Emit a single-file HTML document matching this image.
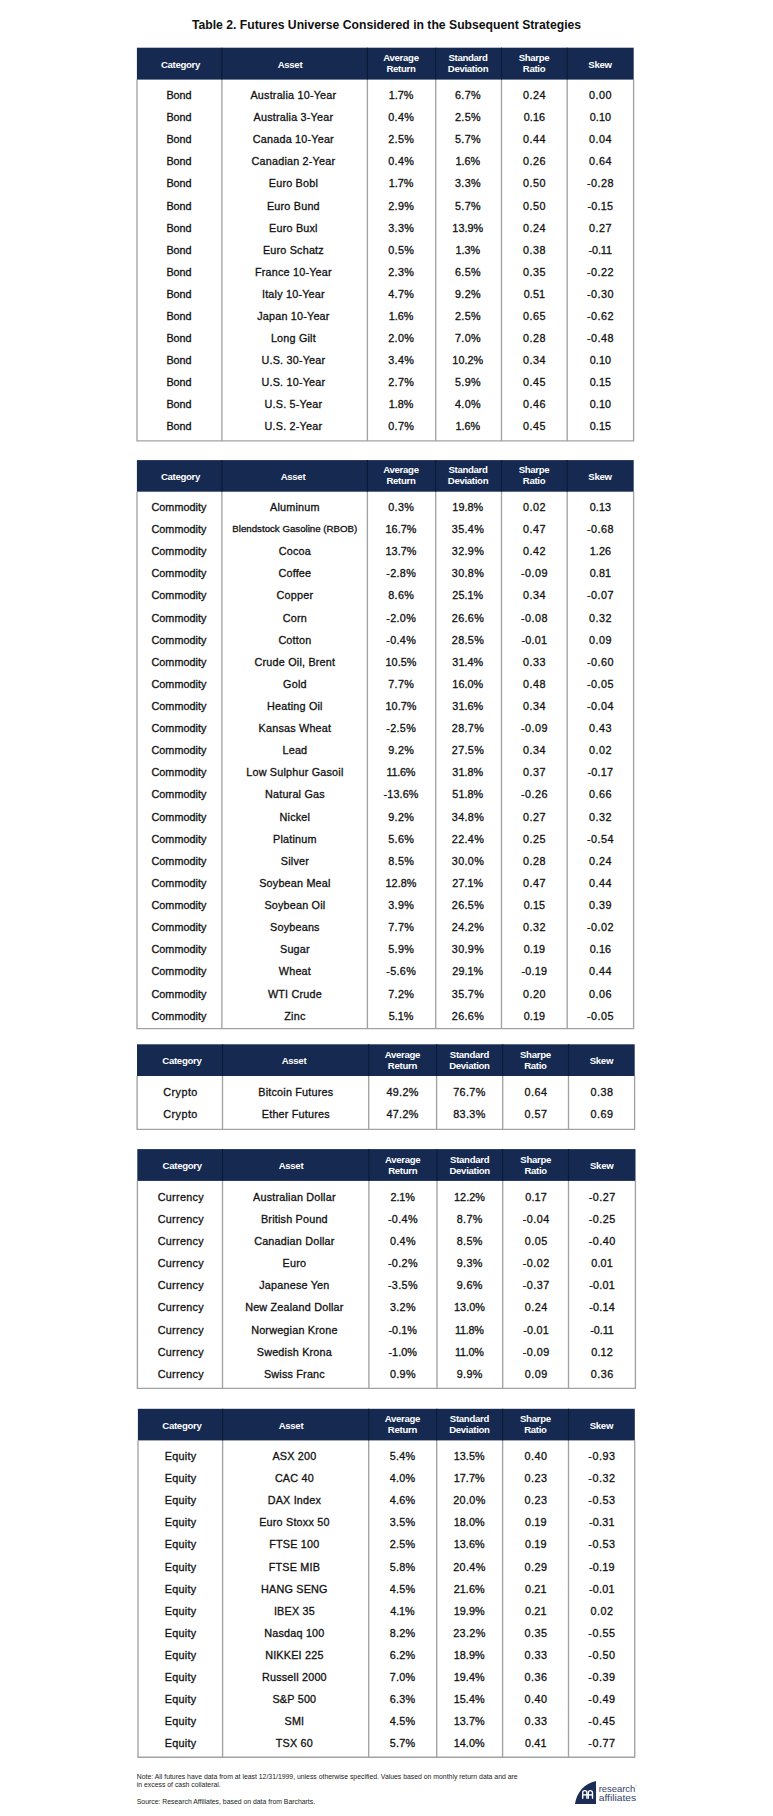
<!DOCTYPE html>
<html lang="en">
<head>
<meta charset="utf-8">
<title>Table 2. Futures Universe Considered in the Subsequent Strategies</title>
<style>
html,body{margin:0;padding:0;background:#fff;}
body{width:773px;height:1816px;position:relative;overflow:hidden;font-family:"Liberation Sans",Arial,sans-serif;color:#1c1c1c;}
.abs{position:absolute;}
.title{position:absolute;left:0;width:773px;top:15px;text-align:center;font-weight:bold;font-size:12.2px;line-height:20px;color:#111;white-space:nowrap;}
.hc{position:absolute;text-align:center;color:#fff;font-weight:bold;font-size:9.6px;letter-spacing:-0.3px;white-space:nowrap;}
.c{position:absolute;text-align:center;-webkit-text-stroke:0.3px #111;color:#111;font-size:10.8px;line-height:14px;height:14px;white-space:nowrap;}
.n{letter-spacing:0.5px;}
.note{position:absolute;left:136.8px;font-size:6.86px;line-height:8px;color:#222;white-space:nowrap;}
</style>
</head>
<body>
<div class="title">Table 2. Futures Universe Considered in the Subsequent Strategies</div>
<svg class="abs" style="left:0;top:0" width="773" height="1816" viewBox="0 0 773 1816">
<g fill="none" stroke="#a2a2a2" stroke-width="1.35"><path d="M137.0 79.6 V440.9 H633.6 V79.6"/><path d="M221.9 79.6 V440.9"/><path d="M367.4 79.6 V440.9"/><path d="M435.7 79.6 V440.9"/><path d="M501.5 79.6 V440.9"/><path d="M567.2 79.6 V440.9"/></g>
<rect x="136.9" y="47.7" width="496.8" height="31.9" fill="#162a51"/><g fill="none" stroke="#0b1a38" stroke-width="1.1"><path d="M221.9 47.7 V79.6"/><path d="M367.4 47.7 V79.6"/><path d="M435.7 47.7 V79.6"/><path d="M501.5 47.7 V79.6"/><path d="M567.2 47.7 V79.6"/></g>
<g fill="none" stroke="#a2a2a2" stroke-width="1.35"><path d="M137.0 491.7 V1028.6 H633.6 V491.7"/><path d="M221.9 491.7 V1028.6"/><path d="M367.4 491.7 V1028.6"/><path d="M435.7 491.7 V1028.6"/><path d="M501.5 491.7 V1028.6"/><path d="M567.2 491.7 V1028.6"/></g>
<rect x="136.9" y="460.1" width="496.8" height="31.6" fill="#162a51"/><g fill="none" stroke="#0b1a38" stroke-width="1.1"><path d="M221.9 460.1 V491.7"/><path d="M367.4 460.1 V491.7"/><path d="M435.7 460.1 V491.7"/><path d="M501.5 460.1 V491.7"/><path d="M567.2 460.1 V491.7"/></g>
<g fill="none" stroke="#a2a2a2" stroke-width="1.35"><path d="M137.1 1076.0 V1129.4 H634.6 V1076.0"/><path d="M222.5 1076.0 V1129.4"/><path d="M368.7 1076.0 V1129.4"/><path d="M436.6 1076.0 V1129.4"/><path d="M502.7 1076.0 V1129.4"/><path d="M568.5 1076.0 V1129.4"/></g>
<rect x="137.0" y="1044.3" width="497.7" height="31.7" fill="#162a51"/><g fill="none" stroke="#0b1a38" stroke-width="1.1"><path d="M222.5 1044.3 V1076.0"/><path d="M368.7 1044.3 V1076.0"/><path d="M436.6 1044.3 V1076.0"/><path d="M502.7 1044.3 V1076.0"/><path d="M568.5 1044.3 V1076.0"/></g>
<g fill="none" stroke="#a2a2a2" stroke-width="1.35"><path d="M137.4 1180.9 V1388.3 H635.4 V1180.9"/><path d="M222.5 1180.9 V1388.3"/><path d="M368.9 1180.9 V1388.3"/><path d="M437.0 1180.9 V1388.3"/><path d="M502.7 1180.9 V1388.3"/><path d="M568.5 1180.9 V1388.3"/></g>
<rect x="137.3" y="1149.1" width="498.2" height="31.8" fill="#162a51"/><g fill="none" stroke="#0b1a38" stroke-width="1.1"><path d="M222.5 1149.1 V1180.9"/><path d="M368.9 1149.1 V1180.9"/><path d="M437.0 1149.1 V1180.9"/><path d="M502.7 1149.1 V1180.9"/><path d="M568.5 1149.1 V1180.9"/></g>
<g fill="none" stroke="#a2a2a2" stroke-width="1.35"><path d="M138.0 1440.4 V1757.2 H634.7 V1440.4"/><path d="M222.6 1440.4 V1757.2"/><path d="M368.7 1440.4 V1757.2"/><path d="M436.7 1440.4 V1757.2"/><path d="M502.6 1440.4 V1757.2"/><path d="M568.5 1440.4 V1757.2"/></g>
<rect x="137.9" y="1408.8" width="496.9" height="31.6" fill="#162a51"/><g fill="none" stroke="#0b1a38" stroke-width="1.1"><path d="M222.6 1408.8 V1440.4"/><path d="M368.7 1408.8 V1440.4"/><path d="M436.7 1408.8 V1440.4"/><path d="M502.6 1408.8 V1440.4"/><path d="M568.5 1408.8 V1440.4"/></g>
</svg>
<div class="hc" style="left:140.5px;width:80px;top:59px;height:12px;line-height:12px">Category</div><div class="hc" style="left:250.0px;width:80px;top:59px;height:12px;line-height:12px">Asset</div><div class="hc" style="left:361.0px;width:80px;top:52px;height:22px;line-height:11px">Average<br>Return</div><div class="hc" style="left:428.0px;width:80px;top:52px;height:22px;line-height:11px">Standard<br>Deviation</div><div class="hc" style="left:494.0px;width:80px;top:52px;height:22px;line-height:11px">Sharpe<br>Ratio</div><div class="hc" style="left:560.0px;width:80px;top:59px;height:12px;line-height:12px">Skew</div>
<div class="c" style="left:104.0px;width:150px;top:88px;">Bond</div><div class="c" style="left:218.4px;width:150px;top:88px;letter-spacing:0.2px;">Australia 10-Year</div><div class="c n" style="left:326.0px;width:150px;top:88px;letter-spacing:-0.05px;">1.7%</div><div class="c n" style="left:393.0px;width:150px;top:88px;letter-spacing:0.33px;">6.7%</div><div class="c n" style="left:459.5px;width:150px;top:88px;">0.24</div><div class="c n" style="left:525.5px;width:150px;top:88px;">0.00</div>
<div class="c" style="left:104.0px;width:150px;top:110px;">Bond</div><div class="c" style="left:218.4px;width:150px;top:110px;letter-spacing:0.2px;">Australia 3-Year</div><div class="c n" style="left:326.2px;width:150px;top:110px;letter-spacing:0.33px;">0.4%</div><div class="c n" style="left:393.0px;width:150px;top:110px;letter-spacing:0.33px;">2.5%</div><div class="c n" style="left:459.4px;width:150px;top:110px;letter-spacing:0.12px;">0.16</div><div class="c n" style="left:525.4px;width:150px;top:110px;letter-spacing:0.12px;">0.10</div>
<div class="c" style="left:104.0px;width:150px;top:132px;">Bond</div><div class="c" style="left:218.4px;width:150px;top:132px;letter-spacing:0.2px;">Canada 10-Year</div><div class="c n" style="left:326.2px;width:150px;top:132px;letter-spacing:0.33px;">2.5%</div><div class="c n" style="left:393.0px;width:150px;top:132px;letter-spacing:0.33px;">5.7%</div><div class="c n" style="left:459.5px;width:150px;top:132px;">0.44</div><div class="c n" style="left:525.5px;width:150px;top:132px;">0.04</div>
<div class="c" style="left:104.0px;width:150px;top:154px;">Bond</div><div class="c" style="left:218.4px;width:150px;top:154px;letter-spacing:0.2px;">Canadian 2-Year</div><div class="c n" style="left:326.2px;width:150px;top:154px;letter-spacing:0.33px;">0.4%</div><div class="c n" style="left:392.8px;width:150px;top:154px;letter-spacing:-0.05px;">1.6%</div><div class="c n" style="left:459.5px;width:150px;top:154px;">0.26</div><div class="c n" style="left:525.5px;width:150px;top:154px;">0.64</div>
<div class="c" style="left:104.0px;width:150px;top:176px;">Bond</div><div class="c" style="left:218.4px;width:150px;top:176px;letter-spacing:0.2px;">Euro Bobl</div><div class="c n" style="left:326.0px;width:150px;top:176px;letter-spacing:-0.05px;">1.7%</div><div class="c n" style="left:393.0px;width:150px;top:176px;letter-spacing:0.33px;">3.3%</div><div class="c n" style="left:459.5px;width:150px;top:176px;">0.50</div><div class="c n" style="left:525.5px;width:150px;top:176px;">-0.28</div>
<div class="c" style="left:104.0px;width:150px;top:199px;">Bond</div><div class="c" style="left:218.4px;width:150px;top:199px;letter-spacing:0.2px;">Euro Bund</div><div class="c n" style="left:326.2px;width:150px;top:199px;letter-spacing:0.33px;">2.9%</div><div class="c n" style="left:393.0px;width:150px;top:199px;letter-spacing:0.33px;">5.7%</div><div class="c n" style="left:459.5px;width:150px;top:199px;">0.50</div><div class="c n" style="left:525.4px;width:150px;top:199px;letter-spacing:0.2px;">-0.15</div>
<div class="c" style="left:104.0px;width:150px;top:221px;">Bond</div><div class="c" style="left:218.4px;width:150px;top:221px;letter-spacing:0.2px;">Euro Buxl</div><div class="c n" style="left:326.2px;width:150px;top:221px;letter-spacing:0.33px;">3.3%</div><div class="c n" style="left:392.8px;width:150px;top:221px;letter-spacing:0.06px;">13.9%</div><div class="c n" style="left:459.5px;width:150px;top:221px;">0.24</div><div class="c n" style="left:525.5px;width:150px;top:221px;">0.27</div>
<div class="c" style="left:104.0px;width:150px;top:243px;">Bond</div><div class="c" style="left:218.4px;width:150px;top:243px;letter-spacing:0.2px;">Euro Schatz</div><div class="c n" style="left:326.2px;width:150px;top:243px;letter-spacing:0.33px;">0.5%</div><div class="c n" style="left:392.8px;width:150px;top:243px;letter-spacing:-0.05px;">1.3%</div><div class="c n" style="left:459.5px;width:150px;top:243px;">0.38</div><div class="c n" style="left:525.2px;width:150px;top:243px;letter-spacing:-0.1px;">-0.11</div>
<div class="c" style="left:104.0px;width:150px;top:265px;">Bond</div><div class="c" style="left:218.4px;width:150px;top:265px;letter-spacing:0.2px;">France 10-Year</div><div class="c n" style="left:326.2px;width:150px;top:265px;letter-spacing:0.33px;">2.3%</div><div class="c n" style="left:393.0px;width:150px;top:265px;letter-spacing:0.33px;">6.5%</div><div class="c n" style="left:459.5px;width:150px;top:265px;">0.35</div><div class="c n" style="left:525.5px;width:150px;top:265px;">-0.22</div>
<div class="c" style="left:104.0px;width:150px;top:287px;">Bond</div><div class="c" style="left:218.4px;width:150px;top:287px;letter-spacing:0.2px;">Italy 10-Year</div><div class="c n" style="left:326.2px;width:150px;top:287px;letter-spacing:0.33px;">4.7%</div><div class="c n" style="left:393.0px;width:150px;top:287px;letter-spacing:0.33px;">9.2%</div><div class="c n" style="left:459.4px;width:150px;top:287px;letter-spacing:0.12px;">0.51</div><div class="c n" style="left:525.5px;width:150px;top:287px;">-0.30</div>
<div class="c" style="left:104.0px;width:150px;top:309px;">Bond</div><div class="c" style="left:218.4px;width:150px;top:309px;letter-spacing:0.2px;">Japan 10-Year</div><div class="c n" style="left:326.0px;width:150px;top:309px;letter-spacing:-0.05px;">1.6%</div><div class="c n" style="left:393.0px;width:150px;top:309px;letter-spacing:0.33px;">2.5%</div><div class="c n" style="left:459.5px;width:150px;top:309px;">0.65</div><div class="c n" style="left:525.5px;width:150px;top:309px;">-0.62</div>
<div class="c" style="left:104.0px;width:150px;top:331px;">Bond</div><div class="c" style="left:218.4px;width:150px;top:331px;letter-spacing:0.2px;">Long Gilt</div><div class="c n" style="left:326.2px;width:150px;top:331px;letter-spacing:0.33px;">2.0%</div><div class="c n" style="left:393.0px;width:150px;top:331px;letter-spacing:0.33px;">7.0%</div><div class="c n" style="left:459.5px;width:150px;top:331px;">0.28</div><div class="c n" style="left:525.5px;width:150px;top:331px;">-0.48</div>
<div class="c" style="left:104.0px;width:150px;top:353px;">Bond</div><div class="c" style="left:218.4px;width:150px;top:353px;letter-spacing:0.2px;">U.S. 30-Year</div><div class="c n" style="left:326.2px;width:150px;top:353px;letter-spacing:0.33px;">3.4%</div><div class="c n" style="left:392.8px;width:150px;top:353px;letter-spacing:0.06px;">10.2%</div><div class="c n" style="left:459.5px;width:150px;top:353px;">0.34</div><div class="c n" style="left:525.4px;width:150px;top:353px;letter-spacing:0.12px;">0.10</div>
<div class="c" style="left:104.0px;width:150px;top:375px;">Bond</div><div class="c" style="left:218.4px;width:150px;top:375px;letter-spacing:0.2px;">U.S. 10-Year</div><div class="c n" style="left:326.2px;width:150px;top:375px;letter-spacing:0.33px;">2.7%</div><div class="c n" style="left:393.0px;width:150px;top:375px;letter-spacing:0.33px;">5.9%</div><div class="c n" style="left:459.5px;width:150px;top:375px;">0.45</div><div class="c n" style="left:525.4px;width:150px;top:375px;letter-spacing:0.12px;">0.15</div>
<div class="c" style="left:104.0px;width:150px;top:397px;">Bond</div><div class="c" style="left:218.4px;width:150px;top:397px;letter-spacing:0.2px;">U.S. 5-Year</div><div class="c n" style="left:326.0px;width:150px;top:397px;letter-spacing:-0.05px;">1.8%</div><div class="c n" style="left:393.0px;width:150px;top:397px;letter-spacing:0.33px;">4.0%</div><div class="c n" style="left:459.5px;width:150px;top:397px;">0.46</div><div class="c n" style="left:525.4px;width:150px;top:397px;letter-spacing:0.12px;">0.10</div>
<div class="c" style="left:104.0px;width:150px;top:419px;">Bond</div><div class="c" style="left:218.4px;width:150px;top:419px;letter-spacing:0.2px;">U.S. 2-Year</div><div class="c n" style="left:326.2px;width:150px;top:419px;letter-spacing:0.33px;">0.7%</div><div class="c n" style="left:392.8px;width:150px;top:419px;letter-spacing:-0.05px;">1.6%</div><div class="c n" style="left:459.5px;width:150px;top:419px;">0.45</div><div class="c n" style="left:525.4px;width:150px;top:419px;letter-spacing:0.12px;">0.15</div>
<div class="hc" style="left:140.5px;width:80px;top:471px;height:12px;line-height:12px">Category</div><div class="hc" style="left:253.0px;width:80px;top:471px;height:12px;line-height:12px">Asset</div><div class="hc" style="left:361.0px;width:80px;top:464px;height:22px;line-height:11px">Average<br>Return</div><div class="hc" style="left:428.0px;width:80px;top:464px;height:22px;line-height:11px">Standard<br>Deviation</div><div class="hc" style="left:494.0px;width:80px;top:464px;height:22px;line-height:11px">Sharpe<br>Ratio</div><div class="hc" style="left:560.0px;width:80px;top:471px;height:12px;line-height:12px">Skew</div>
<div class="c" style="left:104.0px;width:150px;top:500px;letter-spacing:0.05px;">Commodity</div><div class="c" style="left:219.9px;width:150px;top:500px;letter-spacing:0.2px;">Aluminum</div><div class="c n" style="left:326.2px;width:150px;top:500px;letter-spacing:0.33px;">0.3%</div><div class="c n" style="left:392.8px;width:150px;top:500px;letter-spacing:0.06px;">19.8%</div><div class="c n" style="left:459.5px;width:150px;top:500px;">0.02</div><div class="c n" style="left:525.4px;width:150px;top:500px;letter-spacing:0.12px;">0.13</div>
<div class="c" style="left:104.0px;width:150px;top:522px;letter-spacing:0.05px;">Commodity</div><div class="c" style="left:219.8px;width:150px;top:522px;font-size:9.7px;letter-spacing:0;">Blendstock Gasoline (RBOB)</div><div class="c n" style="left:326.0px;width:150px;top:522px;letter-spacing:0.06px;">16.7%</div><div class="c n" style="left:393.0px;width:150px;top:522px;letter-spacing:0.36px;">35.4%</div><div class="c n" style="left:459.5px;width:150px;top:522px;">0.47</div><div class="c n" style="left:525.5px;width:150px;top:522px;">-0.68</div>
<div class="c" style="left:104.0px;width:150px;top:544px;letter-spacing:0.05px;">Commodity</div><div class="c" style="left:219.9px;width:150px;top:544px;letter-spacing:0.2px;">Cocoa</div><div class="c n" style="left:326.0px;width:150px;top:544px;letter-spacing:0.06px;">13.7%</div><div class="c n" style="left:393.0px;width:150px;top:544px;letter-spacing:0.36px;">32.9%</div><div class="c n" style="left:459.5px;width:150px;top:544px;">0.42</div><div class="c n" style="left:525.4px;width:150px;top:544px;letter-spacing:0.12px;">1.26</div>
<div class="c" style="left:104.0px;width:150px;top:566px;letter-spacing:0.05px;">Commodity</div><div class="c" style="left:219.9px;width:150px;top:566px;letter-spacing:0.2px;">Coffee</div><div class="c n" style="left:326.2px;width:150px;top:566px;letter-spacing:0.36px;">-2.8%</div><div class="c n" style="left:393.0px;width:150px;top:566px;letter-spacing:0.36px;">30.8%</div><div class="c n" style="left:459.5px;width:150px;top:566px;">-0.09</div><div class="c n" style="left:525.4px;width:150px;top:566px;letter-spacing:0.12px;">0.81</div>
<div class="c" style="left:104.0px;width:150px;top:588px;letter-spacing:0.05px;">Commodity</div><div class="c" style="left:219.9px;width:150px;top:588px;letter-spacing:0.2px;">Copper</div><div class="c n" style="left:326.2px;width:150px;top:588px;letter-spacing:0.33px;">8.6%</div><div class="c n" style="left:392.8px;width:150px;top:588px;letter-spacing:0.06px;">25.1%</div><div class="c n" style="left:459.5px;width:150px;top:588px;">0.34</div><div class="c n" style="left:525.5px;width:150px;top:588px;">-0.07</div>
<div class="c" style="left:104.0px;width:150px;top:611px;letter-spacing:0.05px;">Commodity</div><div class="c" style="left:219.9px;width:150px;top:611px;letter-spacing:0.2px;">Corn</div><div class="c n" style="left:326.2px;width:150px;top:611px;letter-spacing:0.36px;">-2.0%</div><div class="c n" style="left:393.0px;width:150px;top:611px;letter-spacing:0.36px;">26.6%</div><div class="c n" style="left:459.5px;width:150px;top:611px;">-0.08</div><div class="c n" style="left:525.5px;width:150px;top:611px;">0.32</div>
<div class="c" style="left:104.0px;width:150px;top:633px;letter-spacing:0.05px;">Commodity</div><div class="c" style="left:219.9px;width:150px;top:633px;letter-spacing:0.2px;">Cotton</div><div class="c n" style="left:326.2px;width:150px;top:633px;letter-spacing:0.36px;">-0.4%</div><div class="c n" style="left:393.0px;width:150px;top:633px;letter-spacing:0.36px;">28.5%</div><div class="c n" style="left:459.4px;width:150px;top:633px;letter-spacing:0.2px;">-0.01</div><div class="c n" style="left:525.5px;width:150px;top:633px;">0.09</div>
<div class="c" style="left:104.0px;width:150px;top:655px;letter-spacing:0.05px;">Commodity</div><div class="c" style="left:219.9px;width:150px;top:655px;letter-spacing:0.2px;">Crude Oil, Brent</div><div class="c n" style="left:326.0px;width:150px;top:655px;letter-spacing:0.06px;">10.5%</div><div class="c n" style="left:392.8px;width:150px;top:655px;letter-spacing:0.06px;">31.4%</div><div class="c n" style="left:459.5px;width:150px;top:655px;">0.33</div><div class="c n" style="left:525.5px;width:150px;top:655px;">-0.60</div>
<div class="c" style="left:104.0px;width:150px;top:677px;letter-spacing:0.05px;">Commodity</div><div class="c" style="left:219.9px;width:150px;top:677px;letter-spacing:0.2px;">Gold</div><div class="c n" style="left:326.2px;width:150px;top:677px;letter-spacing:0.33px;">7.7%</div><div class="c n" style="left:392.8px;width:150px;top:677px;letter-spacing:0.06px;">16.0%</div><div class="c n" style="left:459.5px;width:150px;top:677px;">0.48</div><div class="c n" style="left:525.5px;width:150px;top:677px;">-0.05</div>
<div class="c" style="left:104.0px;width:150px;top:699px;letter-spacing:0.05px;">Commodity</div><div class="c" style="left:219.9px;width:150px;top:699px;letter-spacing:0.2px;">Heating Oil</div><div class="c n" style="left:326.0px;width:150px;top:699px;letter-spacing:0.06px;">10.7%</div><div class="c n" style="left:392.8px;width:150px;top:699px;letter-spacing:0.06px;">31.6%</div><div class="c n" style="left:459.5px;width:150px;top:699px;">0.34</div><div class="c n" style="left:525.5px;width:150px;top:699px;">-0.04</div>
<div class="c" style="left:104.0px;width:150px;top:721px;letter-spacing:0.05px;">Commodity</div><div class="c" style="left:219.9px;width:150px;top:721px;letter-spacing:0.2px;">Kansas Wheat</div><div class="c n" style="left:326.2px;width:150px;top:721px;letter-spacing:0.36px;">-2.5%</div><div class="c n" style="left:393.0px;width:150px;top:721px;letter-spacing:0.36px;">28.7%</div><div class="c n" style="left:459.5px;width:150px;top:721px;">-0.09</div><div class="c n" style="left:525.5px;width:150px;top:721px;">0.43</div>
<div class="c" style="left:104.0px;width:150px;top:743px;letter-spacing:0.05px;">Commodity</div><div class="c" style="left:219.9px;width:150px;top:743px;letter-spacing:0.2px;">Lead</div><div class="c n" style="left:326.2px;width:150px;top:743px;letter-spacing:0.33px;">9.2%</div><div class="c n" style="left:393.0px;width:150px;top:743px;letter-spacing:0.36px;">27.5%</div><div class="c n" style="left:459.5px;width:150px;top:743px;">0.34</div><div class="c n" style="left:525.5px;width:150px;top:743px;">0.02</div>
<div class="c" style="left:104.0px;width:150px;top:765px;letter-spacing:0.05px;">Commodity</div><div class="c" style="left:219.9px;width:150px;top:765px;letter-spacing:0.2px;">Low Sulphur Gasoil</div><div class="c n" style="left:325.9px;width:150px;top:765px;letter-spacing:-0.24px;">11.6%</div><div class="c n" style="left:392.8px;width:150px;top:765px;letter-spacing:0.06px;">31.8%</div><div class="c n" style="left:459.5px;width:150px;top:765px;">0.37</div><div class="c n" style="left:525.4px;width:150px;top:765px;letter-spacing:0.2px;">-0.17</div>
<div class="c" style="left:104.0px;width:150px;top:787px;letter-spacing:0.05px;">Commodity</div><div class="c" style="left:219.9px;width:150px;top:787px;letter-spacing:0.2px;">Natural Gas</div><div class="c n" style="left:326.1px;width:150px;top:787px;letter-spacing:0.13px;">-13.6%</div><div class="c n" style="left:392.8px;width:150px;top:787px;letter-spacing:0.06px;">51.8%</div><div class="c n" style="left:459.5px;width:150px;top:787px;">-0.26</div><div class="c n" style="left:525.5px;width:150px;top:787px;">0.66</div>
<div class="c" style="left:104.0px;width:150px;top:810px;letter-spacing:0.05px;">Commodity</div><div class="c" style="left:219.9px;width:150px;top:810px;letter-spacing:0.2px;">Nickel</div><div class="c n" style="left:326.2px;width:150px;top:810px;letter-spacing:0.33px;">9.2%</div><div class="c n" style="left:393.0px;width:150px;top:810px;letter-spacing:0.36px;">34.8%</div><div class="c n" style="left:459.5px;width:150px;top:810px;">0.27</div><div class="c n" style="left:525.5px;width:150px;top:810px;">0.32</div>
<div class="c" style="left:104.0px;width:150px;top:832px;letter-spacing:0.05px;">Commodity</div><div class="c" style="left:219.9px;width:150px;top:832px;letter-spacing:0.2px;">Platinum</div><div class="c n" style="left:326.2px;width:150px;top:832px;letter-spacing:0.33px;">5.6%</div><div class="c n" style="left:393.0px;width:150px;top:832px;letter-spacing:0.36px;">22.4%</div><div class="c n" style="left:459.5px;width:150px;top:832px;">0.25</div><div class="c n" style="left:525.5px;width:150px;top:832px;">-0.54</div>
<div class="c" style="left:104.0px;width:150px;top:854px;letter-spacing:0.05px;">Commodity</div><div class="c" style="left:219.9px;width:150px;top:854px;letter-spacing:0.2px;">Silver</div><div class="c n" style="left:326.2px;width:150px;top:854px;letter-spacing:0.33px;">8.5%</div><div class="c n" style="left:393.0px;width:150px;top:854px;letter-spacing:0.36px;">30.0%</div><div class="c n" style="left:459.5px;width:150px;top:854px;">0.28</div><div class="c n" style="left:525.5px;width:150px;top:854px;">0.24</div>
<div class="c" style="left:104.0px;width:150px;top:876px;letter-spacing:0.05px;">Commodity</div><div class="c" style="left:219.9px;width:150px;top:876px;letter-spacing:0.2px;">Soybean Meal</div><div class="c n" style="left:326.0px;width:150px;top:876px;letter-spacing:0.06px;">12.8%</div><div class="c n" style="left:392.8px;width:150px;top:876px;letter-spacing:0.06px;">27.1%</div><div class="c n" style="left:459.5px;width:150px;top:876px;">0.47</div><div class="c n" style="left:525.5px;width:150px;top:876px;">0.44</div>
<div class="c" style="left:104.0px;width:150px;top:898px;letter-spacing:0.05px;">Commodity</div><div class="c" style="left:219.9px;width:150px;top:898px;letter-spacing:0.2px;">Soybean Oil</div><div class="c n" style="left:326.2px;width:150px;top:898px;letter-spacing:0.33px;">3.9%</div><div class="c n" style="left:393.0px;width:150px;top:898px;letter-spacing:0.36px;">26.5%</div><div class="c n" style="left:459.4px;width:150px;top:898px;letter-spacing:0.12px;">0.15</div><div class="c n" style="left:525.5px;width:150px;top:898px;">0.39</div>
<div class="c" style="left:104.0px;width:150px;top:920px;letter-spacing:0.05px;">Commodity</div><div class="c" style="left:219.9px;width:150px;top:920px;letter-spacing:0.2px;">Soybeans</div><div class="c n" style="left:326.2px;width:150px;top:920px;letter-spacing:0.33px;">7.7%</div><div class="c n" style="left:393.0px;width:150px;top:920px;letter-spacing:0.36px;">24.2%</div><div class="c n" style="left:459.5px;width:150px;top:920px;">0.32</div><div class="c n" style="left:525.5px;width:150px;top:920px;">-0.02</div>
<div class="c" style="left:104.0px;width:150px;top:942px;letter-spacing:0.05px;">Commodity</div><div class="c" style="left:219.9px;width:150px;top:942px;letter-spacing:0.2px;">Sugar</div><div class="c n" style="left:326.2px;width:150px;top:942px;letter-spacing:0.33px;">5.9%</div><div class="c n" style="left:393.0px;width:150px;top:942px;letter-spacing:0.36px;">30.9%</div><div class="c n" style="left:459.4px;width:150px;top:942px;letter-spacing:0.12px;">0.19</div><div class="c n" style="left:525.4px;width:150px;top:942px;letter-spacing:0.12px;">0.16</div>
<div class="c" style="left:104.0px;width:150px;top:964px;letter-spacing:0.05px;">Commodity</div><div class="c" style="left:219.9px;width:150px;top:964px;letter-spacing:0.2px;">Wheat</div><div class="c n" style="left:326.2px;width:150px;top:964px;letter-spacing:0.36px;">-5.6%</div><div class="c n" style="left:392.8px;width:150px;top:964px;letter-spacing:0.06px;">29.1%</div><div class="c n" style="left:459.4px;width:150px;top:964px;letter-spacing:0.2px;">-0.19</div><div class="c n" style="left:525.5px;width:150px;top:964px;">0.44</div>
<div class="c" style="left:104.0px;width:150px;top:987px;letter-spacing:0.05px;">Commodity</div><div class="c" style="left:219.9px;width:150px;top:987px;letter-spacing:0.2px;">WTI Crude</div><div class="c n" style="left:326.2px;width:150px;top:987px;letter-spacing:0.33px;">7.2%</div><div class="c n" style="left:393.0px;width:150px;top:987px;letter-spacing:0.36px;">35.7%</div><div class="c n" style="left:459.5px;width:150px;top:987px;">0.20</div><div class="c n" style="left:525.5px;width:150px;top:987px;">0.06</div>
<div class="c" style="left:104.0px;width:150px;top:1009px;letter-spacing:0.05px;">Commodity</div><div class="c" style="left:219.9px;width:150px;top:1009px;letter-spacing:0.2px;">Zinc</div><div class="c n" style="left:326.0px;width:150px;top:1009px;letter-spacing:-0.05px;">5.1%</div><div class="c n" style="left:393.0px;width:150px;top:1009px;letter-spacing:0.36px;">26.6%</div><div class="c n" style="left:459.4px;width:150px;top:1009px;letter-spacing:0.12px;">0.19</div><div class="c n" style="left:525.5px;width:150px;top:1009px;">-0.05</div>
<div class="hc" style="left:141.9px;width:80px;top:1055px;height:12px;line-height:12px">Category</div><div class="hc" style="left:254.0px;width:80px;top:1055px;height:12px;line-height:12px">Asset</div><div class="hc" style="left:362.4px;width:80px;top:1049px;height:22px;line-height:11px">Average<br>Return</div><div class="hc" style="left:429.4px;width:80px;top:1049px;height:22px;line-height:11px">Standard<br>Deviation</div><div class="hc" style="left:495.4px;width:80px;top:1049px;height:22px;line-height:11px">Sharpe<br>Ratio</div><div class="hc" style="left:561.4px;width:80px;top:1055px;height:12px;line-height:12px">Skew</div>
<div class="c" style="left:105.6px;width:150px;top:1085px;letter-spacing:0.45px;">Crypto</div><div class="c" style="left:220.8px;width:150px;top:1085px;letter-spacing:0.2px;">Bitcoin Futures</div><div class="c n" style="left:327.6px;width:150px;top:1085px;letter-spacing:0.36px;">49.2%</div><div class="c n" style="left:394.4px;width:150px;top:1085px;letter-spacing:0.36px;">76.7%</div><div class="c n" style="left:460.9px;width:150px;top:1085px;">0.64</div><div class="c n" style="left:526.9px;width:150px;top:1085px;">0.38</div>
<div class="c" style="left:105.6px;width:150px;top:1107px;letter-spacing:0.45px;">Crypto</div><div class="c" style="left:220.8px;width:150px;top:1107px;letter-spacing:0.2px;">Ether Futures</div><div class="c n" style="left:327.6px;width:150px;top:1107px;letter-spacing:0.36px;">47.2%</div><div class="c n" style="left:394.4px;width:150px;top:1107px;letter-spacing:0.36px;">83.3%</div><div class="c n" style="left:460.9px;width:150px;top:1107px;">0.57</div><div class="c n" style="left:526.9px;width:150px;top:1107px;">0.69</div>
<div class="hc" style="left:142.2px;width:80px;top:1160px;height:12px;line-height:12px">Category</div><div class="hc" style="left:251.0px;width:80px;top:1160px;height:12px;line-height:12px">Asset</div><div class="hc" style="left:362.7px;width:80px;top:1154px;height:22px;line-height:11px">Average<br>Return</div><div class="hc" style="left:429.7px;width:80px;top:1154px;height:22px;line-height:11px">Standard<br>Deviation</div><div class="hc" style="left:495.7px;width:80px;top:1154px;height:22px;line-height:11px">Sharpe<br>Ratio</div><div class="hc" style="left:561.7px;width:80px;top:1160px;height:12px;line-height:12px">Skew</div>
<div class="c" style="left:105.8px;width:150px;top:1190px;letter-spacing:0.3px;">Currency</div><div class="c" style="left:219.4px;width:150px;top:1190px;letter-spacing:0.2px;">Australian Dollar</div><div class="c n" style="left:327.7px;width:150px;top:1190px;letter-spacing:-0.05px;">2.1%</div><div class="c n" style="left:394.5px;width:150px;top:1190px;letter-spacing:0.06px;">12.2%</div><div class="c n" style="left:461.1px;width:150px;top:1190px;letter-spacing:0.12px;">0.17</div><div class="c n" style="left:527.2px;width:150px;top:1190px;">-0.27</div>
<div class="c" style="left:105.8px;width:150px;top:1212px;letter-spacing:0.3px;">Currency</div><div class="c" style="left:219.4px;width:150px;top:1212px;letter-spacing:0.2px;">British Pound</div><div class="c n" style="left:327.9px;width:150px;top:1212px;letter-spacing:0.36px;">-0.4%</div><div class="c n" style="left:394.7px;width:150px;top:1212px;letter-spacing:0.33px;">8.7%</div><div class="c n" style="left:461.2px;width:150px;top:1212px;">-0.04</div><div class="c n" style="left:527.2px;width:150px;top:1212px;">-0.25</div>
<div class="c" style="left:105.8px;width:150px;top:1234px;letter-spacing:0.3px;">Currency</div><div class="c" style="left:219.4px;width:150px;top:1234px;letter-spacing:0.2px;">Canadian Dollar</div><div class="c n" style="left:327.9px;width:150px;top:1234px;letter-spacing:0.33px;">0.4%</div><div class="c n" style="left:394.7px;width:150px;top:1234px;letter-spacing:0.33px;">8.5%</div><div class="c n" style="left:461.2px;width:150px;top:1234px;">0.05</div><div class="c n" style="left:527.2px;width:150px;top:1234px;">-0.40</div>
<div class="c" style="left:105.8px;width:150px;top:1256px;letter-spacing:0.3px;">Currency</div><div class="c" style="left:219.4px;width:150px;top:1256px;letter-spacing:0.2px;">Euro</div><div class="c n" style="left:327.9px;width:150px;top:1256px;letter-spacing:0.36px;">-0.2%</div><div class="c n" style="left:394.7px;width:150px;top:1256px;letter-spacing:0.33px;">9.3%</div><div class="c n" style="left:461.2px;width:150px;top:1256px;">-0.02</div><div class="c n" style="left:527.1px;width:150px;top:1256px;letter-spacing:0.12px;">0.01</div>
<div class="c" style="left:105.8px;width:150px;top:1278px;letter-spacing:0.3px;">Currency</div><div class="c" style="left:219.4px;width:150px;top:1278px;letter-spacing:0.2px;">Japanese Yen</div><div class="c n" style="left:327.9px;width:150px;top:1278px;letter-spacing:0.36px;">-3.5%</div><div class="c n" style="left:394.7px;width:150px;top:1278px;letter-spacing:0.33px;">9.6%</div><div class="c n" style="left:461.2px;width:150px;top:1278px;">-0.37</div><div class="c n" style="left:527.1px;width:150px;top:1278px;letter-spacing:0.2px;">-0.01</div>
<div class="c" style="left:105.8px;width:150px;top:1300px;letter-spacing:0.3px;">Currency</div><div class="c" style="left:219.4px;width:150px;top:1300px;letter-spacing:0.2px;">New Zealand Dollar</div><div class="c n" style="left:327.9px;width:150px;top:1300px;letter-spacing:0.33px;">3.2%</div><div class="c n" style="left:394.5px;width:150px;top:1300px;letter-spacing:0.06px;">13.0%</div><div class="c n" style="left:461.2px;width:150px;top:1300px;">0.24</div><div class="c n" style="left:527.1px;width:150px;top:1300px;letter-spacing:0.2px;">-0.14</div>
<div class="c" style="left:105.8px;width:150px;top:1323px;letter-spacing:0.3px;">Currency</div><div class="c" style="left:219.4px;width:150px;top:1323px;letter-spacing:0.2px;">Norwegian Krone</div><div class="c n" style="left:327.7px;width:150px;top:1323px;letter-spacing:0.06px;">-0.1%</div><div class="c n" style="left:394.4px;width:150px;top:1323px;letter-spacing:-0.24px;">11.8%</div><div class="c n" style="left:461.1px;width:150px;top:1323px;letter-spacing:0.2px;">-0.01</div><div class="c n" style="left:527.0px;width:150px;top:1323px;letter-spacing:-0.1px;">-0.11</div>
<div class="c" style="left:105.8px;width:150px;top:1345px;letter-spacing:0.3px;">Currency</div><div class="c" style="left:219.4px;width:150px;top:1345px;letter-spacing:0.2px;">Swedish Krona</div><div class="c n" style="left:327.7px;width:150px;top:1345px;letter-spacing:0.06px;">-1.0%</div><div class="c n" style="left:394.4px;width:150px;top:1345px;letter-spacing:-0.24px;">11.0%</div><div class="c n" style="left:461.2px;width:150px;top:1345px;">-0.09</div><div class="c n" style="left:527.1px;width:150px;top:1345px;letter-spacing:0.12px;">0.12</div>
<div class="c" style="left:105.8px;width:150px;top:1367px;letter-spacing:0.3px;">Currency</div><div class="c" style="left:219.4px;width:150px;top:1367px;letter-spacing:0.2px;">Swiss Franc</div><div class="c n" style="left:327.9px;width:150px;top:1367px;letter-spacing:0.33px;">0.9%</div><div class="c n" style="left:394.7px;width:150px;top:1367px;letter-spacing:0.33px;">9.9%</div><div class="c n" style="left:461.2px;width:150px;top:1367px;">0.09</div><div class="c n" style="left:527.2px;width:150px;top:1367px;">0.36</div>
<div class="hc" style="left:141.9px;width:80px;top:1420px;height:12px;line-height:12px">Category</div><div class="hc" style="left:251.0px;width:80px;top:1420px;height:12px;line-height:12px">Asset</div><div class="hc" style="left:362.4px;width:80px;top:1413px;height:22px;line-height:11px">Average<br>Return</div><div class="hc" style="left:429.4px;width:80px;top:1413px;height:22px;line-height:11px">Standard<br>Deviation</div><div class="hc" style="left:495.4px;width:80px;top:1413px;height:22px;line-height:11px">Sharpe<br>Ratio</div><div class="hc" style="left:561.4px;width:80px;top:1420px;height:12px;line-height:12px">Skew</div>
<div class="c" style="left:105.6px;width:150px;top:1449px;letter-spacing:0.3px;">Equity</div><div class="c" style="left:219.4px;width:150px;top:1449px;letter-spacing:0.2px;">ASX 200</div><div class="c n" style="left:327.6px;width:150px;top:1449px;letter-spacing:0.33px;">5.4%</div><div class="c n" style="left:394.2px;width:150px;top:1449px;letter-spacing:0.06px;">13.5%</div><div class="c n" style="left:460.9px;width:150px;top:1449px;">0.40</div><div class="c n" style="left:526.9px;width:150px;top:1449px;">-0.93</div>
<div class="c" style="left:105.6px;width:150px;top:1471px;letter-spacing:0.3px;">Equity</div><div class="c" style="left:219.4px;width:150px;top:1471px;letter-spacing:0.2px;">CAC 40</div><div class="c n" style="left:327.6px;width:150px;top:1471px;letter-spacing:0.33px;">4.0%</div><div class="c n" style="left:394.2px;width:150px;top:1471px;letter-spacing:0.06px;">17.7%</div><div class="c n" style="left:460.9px;width:150px;top:1471px;">0.23</div><div class="c n" style="left:526.9px;width:150px;top:1471px;">-0.32</div>
<div class="c" style="left:105.6px;width:150px;top:1493px;letter-spacing:0.3px;">Equity</div><div class="c" style="left:219.4px;width:150px;top:1493px;letter-spacing:0.2px;">DAX Index</div><div class="c n" style="left:327.6px;width:150px;top:1493px;letter-spacing:0.33px;">4.6%</div><div class="c n" style="left:394.4px;width:150px;top:1493px;letter-spacing:0.36px;">20.0%</div><div class="c n" style="left:460.9px;width:150px;top:1493px;">0.23</div><div class="c n" style="left:526.9px;width:150px;top:1493px;">-0.53</div>
<div class="c" style="left:105.6px;width:150px;top:1515px;letter-spacing:0.3px;">Equity</div><div class="c" style="left:219.4px;width:150px;top:1515px;letter-spacing:0.2px;">Euro Stoxx 50</div><div class="c n" style="left:327.6px;width:150px;top:1515px;letter-spacing:0.33px;">3.5%</div><div class="c n" style="left:394.2px;width:150px;top:1515px;letter-spacing:0.06px;">18.0%</div><div class="c n" style="left:460.8px;width:150px;top:1515px;letter-spacing:0.12px;">0.19</div><div class="c n" style="left:526.8px;width:150px;top:1515px;letter-spacing:0.2px;">-0.31</div>
<div class="c" style="left:105.6px;width:150px;top:1537px;letter-spacing:0.3px;">Equity</div><div class="c" style="left:219.4px;width:150px;top:1537px;letter-spacing:0.2px;">FTSE 100</div><div class="c n" style="left:327.6px;width:150px;top:1537px;letter-spacing:0.33px;">2.5%</div><div class="c n" style="left:394.2px;width:150px;top:1537px;letter-spacing:0.06px;">13.6%</div><div class="c n" style="left:460.8px;width:150px;top:1537px;letter-spacing:0.12px;">0.19</div><div class="c n" style="left:526.9px;width:150px;top:1537px;">-0.53</div>
<div class="c" style="left:105.6px;width:150px;top:1560px;letter-spacing:0.3px;">Equity</div><div class="c" style="left:219.4px;width:150px;top:1560px;letter-spacing:0.2px;">FTSE MIB</div><div class="c n" style="left:327.6px;width:150px;top:1560px;letter-spacing:0.33px;">5.8%</div><div class="c n" style="left:394.4px;width:150px;top:1560px;letter-spacing:0.36px;">20.4%</div><div class="c n" style="left:460.9px;width:150px;top:1560px;">0.29</div><div class="c n" style="left:526.8px;width:150px;top:1560px;letter-spacing:0.2px;">-0.19</div>
<div class="c" style="left:105.6px;width:150px;top:1582px;letter-spacing:0.3px;">Equity</div><div class="c" style="left:219.4px;width:150px;top:1582px;letter-spacing:0.2px;">HANG SENG</div><div class="c n" style="left:327.6px;width:150px;top:1582px;letter-spacing:0.33px;">4.5%</div><div class="c n" style="left:394.2px;width:150px;top:1582px;letter-spacing:0.06px;">21.6%</div><div class="c n" style="left:460.8px;width:150px;top:1582px;letter-spacing:0.12px;">0.21</div><div class="c n" style="left:526.8px;width:150px;top:1582px;letter-spacing:0.2px;">-0.01</div>
<div class="c" style="left:105.6px;width:150px;top:1604px;letter-spacing:0.3px;">Equity</div><div class="c" style="left:219.4px;width:150px;top:1604px;letter-spacing:0.2px;">IBEX 35</div><div class="c n" style="left:327.4px;width:150px;top:1604px;letter-spacing:-0.05px;">4.1%</div><div class="c n" style="left:394.2px;width:150px;top:1604px;letter-spacing:0.06px;">19.9%</div><div class="c n" style="left:460.8px;width:150px;top:1604px;letter-spacing:0.12px;">0.21</div><div class="c n" style="left:526.9px;width:150px;top:1604px;">0.02</div>
<div class="c" style="left:105.6px;width:150px;top:1626px;letter-spacing:0.3px;">Equity</div><div class="c" style="left:219.4px;width:150px;top:1626px;letter-spacing:0.2px;">Nasdaq 100</div><div class="c n" style="left:327.6px;width:150px;top:1626px;letter-spacing:0.33px;">8.2%</div><div class="c n" style="left:394.4px;width:150px;top:1626px;letter-spacing:0.36px;">23.2%</div><div class="c n" style="left:460.9px;width:150px;top:1626px;">0.35</div><div class="c n" style="left:526.9px;width:150px;top:1626px;">-0.55</div>
<div class="c" style="left:105.6px;width:150px;top:1648px;letter-spacing:0.3px;">Equity</div><div class="c" style="left:219.4px;width:150px;top:1648px;letter-spacing:0.2px;">NIKKEI 225</div><div class="c n" style="left:327.6px;width:150px;top:1648px;letter-spacing:0.33px;">6.2%</div><div class="c n" style="left:394.2px;width:150px;top:1648px;letter-spacing:0.06px;">18.9%</div><div class="c n" style="left:460.9px;width:150px;top:1648px;">0.33</div><div class="c n" style="left:526.9px;width:150px;top:1648px;">-0.50</div>
<div class="c" style="left:105.6px;width:150px;top:1670px;letter-spacing:0.3px;">Equity</div><div class="c" style="left:219.4px;width:150px;top:1670px;letter-spacing:0.2px;">Russell 2000</div><div class="c n" style="left:327.6px;width:150px;top:1670px;letter-spacing:0.33px;">7.0%</div><div class="c n" style="left:394.2px;width:150px;top:1670px;letter-spacing:0.06px;">19.4%</div><div class="c n" style="left:460.9px;width:150px;top:1670px;">0.36</div><div class="c n" style="left:526.9px;width:150px;top:1670px;">-0.39</div>
<div class="c" style="left:105.6px;width:150px;top:1692px;letter-spacing:0.3px;">Equity</div><div class="c" style="left:219.4px;width:150px;top:1692px;letter-spacing:0.2px;">S&amp;P 500</div><div class="c n" style="left:327.6px;width:150px;top:1692px;letter-spacing:0.33px;">6.3%</div><div class="c n" style="left:394.2px;width:150px;top:1692px;letter-spacing:0.06px;">15.4%</div><div class="c n" style="left:460.9px;width:150px;top:1692px;">0.40</div><div class="c n" style="left:526.9px;width:150px;top:1692px;">-0.49</div>
<div class="c" style="left:105.6px;width:150px;top:1714px;letter-spacing:0.3px;">Equity</div><div class="c" style="left:219.4px;width:150px;top:1714px;letter-spacing:0.2px;">SMI</div><div class="c n" style="left:327.6px;width:150px;top:1714px;letter-spacing:0.33px;">4.5%</div><div class="c n" style="left:394.2px;width:150px;top:1714px;letter-spacing:0.06px;">13.7%</div><div class="c n" style="left:460.9px;width:150px;top:1714px;">0.33</div><div class="c n" style="left:526.9px;width:150px;top:1714px;">-0.45</div>
<div class="c" style="left:105.6px;width:150px;top:1736px;letter-spacing:0.3px;">Equity</div><div class="c" style="left:219.4px;width:150px;top:1736px;letter-spacing:0.2px;">TSX 60</div><div class="c n" style="left:327.6px;width:150px;top:1736px;letter-spacing:0.33px;">5.7%</div><div class="c n" style="left:394.2px;width:150px;top:1736px;letter-spacing:0.06px;">14.0%</div><div class="c n" style="left:460.8px;width:150px;top:1736px;letter-spacing:0.12px;">0.41</div><div class="c n" style="left:526.9px;width:150px;top:1736px;">-0.77</div>
<div class="note" style="top:1773px">Note: All futures have data from at least 12/31/1999, unless otherwise specified. Values based on monthly return data and are<br>in excess of cash collateral.</div>
<div class="note" style="top:1798px">Source: Research Affiliates, based on data from Barcharts.</div>
<svg class="abs" style="left:570px;top:1776px" width="80" height="34" viewBox="570 1776 80 34">
<path d="M596 1781 L596 1804 L575 1804 C576.3 1792.8 584.6 1783.2 596 1781 Z" fill="#1b2d55"/>
<g fill="none" stroke="#fff" stroke-width="1.4" stroke-linecap="butt">
<path d="M582.7 1798.8 V1792.7 a2.1 2.1 0 0 1 4.2 0 V1798.8"/>
<path d="M588.3 1798.8 V1792.7 a2.1 2.1 0 0 1 4.2 0 V1798.8"/>
<path d="M582.7 1794.9 H592.5"/>
</g>
<text x="598.7" y="1792.3" font-family="Liberation Sans, Arial, sans-serif" font-size="9.8" fill="#35436a" textLength="36.6" lengthAdjust="spacingAndGlyphs">research</text>
<text x="635.3" y="1786.6" font-family="Liberation Sans, Arial, sans-serif" font-size="2.4" fill="#35436a">®</text>
<text x="598.7" y="1801.2" font-family="Liberation Sans, Arial, sans-serif" font-size="9.8" fill="#35436a" textLength="37.5" lengthAdjust="spacingAndGlyphs">affiliates</text>
</svg>
</body>
</html>
